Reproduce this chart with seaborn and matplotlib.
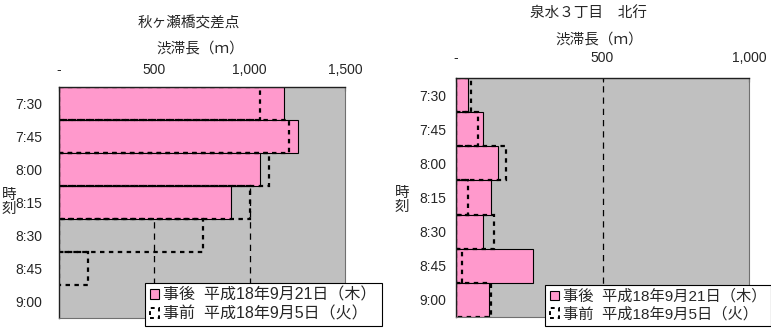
import matplotlib
matplotlib.use("Agg")
import matplotlib.pyplot as plt
import matplotlib.patches as mpatches
import seaborn as sns
import numpy as np

sns.set_style("white")
plt.rcParams['font.family'] = ['Liberation Sans', 'Noto Sans CJK JP', 'DejaVu Sans']

times = ["7:30", "7:45", "8:00", "8:15", "8:30", "8:45", "9:00"]

left_title = "秋ヶ瀬橋交差点"
left_after = [1180, 1252, 1054, 902, 0, 0, 0]
left_before = [1054, 1205, 1100, 1000, 754, 152, 0]
left_ticks = [0, 500, 1000, 1500]
left_ticklabels = ["-", "500", "1,000", "1,500"]

right_title = "泉水３丁目　北行"
right_after = [40, 91, 142, 120, 91, 262, 111]
right_before = [51, 74, 170, 41, 130, 20, 119]
right_ticks = [0, 500, 1000]
right_ticklabels = ["-", "500", "1,000"]

xlabel = "渋滞長（ｍ）"
ylabel = "時\n刻"
after_label = "事後  平成18年9月21日（木）"
before_label = "事前  平成18年9月5日（火）"

PINK = "#FF99CC"
GRAY = "#C0C0C0"

W, H = 771, 332
fig = plt.figure(figsize=(W / 100, H / 100), dpi=100)


def px_axes(l, t, r, b):
    return fig.add_axes([l / W, 1 - b / H, (r - l) / W, (b - t) / H])


def draw(ax, after, before, ticks, ticklabels, xmax, ypad, xpad):
    ax.set_facecolor(GRAY)
    n0 = len(ax.patches)
    sns.barplot(x=after, y=times, orient="h", color=PINK, saturation=1,
                width=1.0, edgecolor="black", linewidth=0.8, ax=ax, zorder=3)
    for p in ax.patches[n0:]:
        if p.get_width() == 0:
            p.set_visible(False)
    n1 = len(ax.patches)
    sns.barplot(x=before, y=times, orient="h", color="white", saturation=1,
                width=1.0, edgecolor="black", linewidth=1.6, ax=ax, zorder=4)
    for p in ax.patches[n1:]:
        p.set_facecolor("none")
        p.set_linestyle((0, (2, 2)))
        if p.get_width() == 0:
            p.set_visible(False)
    ax.set_xlim(0, xmax)
    ax.set_ylim(6.5, -0.5)
    for t in ticks[1:-1]:
        ax.axvline(t, color="black", lw=0.9, ls=(0, (5, 4)), zorder=2)
    ax.xaxis.tick_top()
    ax.set_xticks(ticks)
    ax.set_xticklabels(ticklabels)
    ax.tick_params(axis="x", direction="in", length=3, width=0.8, pad=xpad,
                   labelsize=10, top=True, bottom=False, color="black")
    ax.tick_params(axis="y", length=0, pad=ypad, labelsize=10)
    ax.set_xlabel("")
    ax.set_ylabel("")
    for s in ["top", "left"]:
        ax.spines[s].set_color("#202020")
        ax.spines[s].set_linewidth(1.0)
    for s in ["right", "bottom"]:
        ax.spines[s].set_color("#707070")
        ax.spines[s].set_linewidth(0.8)
    for s in ax.spines.values():
        s.set_zorder(5)


axL = px_axes(59, 87, 345, 318)
draw(axL, left_after, left_before, left_ticks, left_ticklabels, 1500, 12, 7)
axR = px_axes(456, 78, 749, 317)
draw(axR, right_after, right_before, right_ticks, right_ticklabels, 1000, 7, 9)

fs = 10.5
fig.text(189 / W, 1 - 23 / H, left_title, ha="center", va="center", fontsize=fs)
fig.text(200 / W, 1 - 49 / H, xlabel, ha="center", va="center", fontsize=fs)
fig.text(589 / W, 1 - 13 / H, right_title, ha="center", va="center", fontsize=fs)
fig.text(599 / W, 1 - 40 / H, xlabel, ha="center", va="center", fontsize=fs)
fig.text(9 / W, 1 - 202 / H, ylabel, ha="center", va="center", fontsize=fs, linespacing=1.05)
fig.text(402 / W, 1 - 200 / H, ylabel, ha="center", va="center", fontsize=fs, linespacing=1.05)


def add_legend(x0, y1, size):
    h1 = mpatches.Patch(facecolor=PINK, edgecolor="black", linewidth=0.8)
    h2 = mpatches.Patch(facecolor="white", edgecolor="black", linewidth=1.4, linestyle=(0, (2, 2)))
    leg = fig.legend([h1, h2], [after_label, before_label], loc="lower left",
                     bbox_to_anchor=(x0 / W, 1 - y1 / H), fontsize=size,
                     frameon=True, fancybox=False, framealpha=1, edgecolor="black",
                     handlelength=0.6, handleheight=0.6, handletextpad=0.25,
                     borderpad=0.3, labelspacing=0.2, borderaxespad=0)
    leg.get_frame().set_linewidth(0.8)


add_legend(145, 326, 11.5)
add_legend(545, 326, 11)

fig.savefig("out.png", dpi=100)
